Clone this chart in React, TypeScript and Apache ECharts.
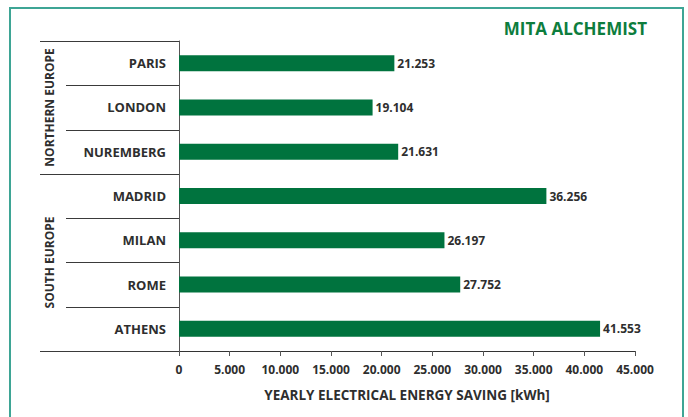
import React, { useEffect, useRef } from "react";
import * as echarts from "echarts";

const cities = ["PARIS", "LONDON", "NUREMBERG", "MADRID", "MILAN", "ROME", "ATHENS"];
const savings = [21253, 19104, 21631, 36256, 26197, 27752, 41553];
const groups = [
  { name: "NORTHERN EUROPE", start: 0, end: 3 },
  { name: "SOUTH EUROPE", start: 3, end: 7 },
];
const xTicks = [0, 5000, 10000, 15000, 20000, 25000, 30000, 35000, 40000, 45000];
const title = "MITA ALCHEMIST";
const axisName = "YEARLY ELECTRICAL ENERGY SAVING [kWh]";

const FONT = "'Open Sans', 'DejaVu Sans', sans-serif";
const TXT = "#2e2e2e";
const GREEN = "#00733e";

const fmt = (v: number) => String(v).replace(/\B(?=(\d{3})+(?!\d))/g, ".");

export default function App() {
  const ref = useRef<HTMLDivElement>(null);
  useEffect(() => {
    if (!ref.current) return;
    const chart = echarts.init(ref.current, undefined, { renderer: "svg" });
    const option: any = {
      animation: false,
      backgroundColor: "#ffffff",
      textStyle: { fontFamily: FONT },
      title: {
        text: title,
        right: 36,
        top: 15,
        textStyle: { color: "#0d7d3d", fontSize: 17, fontWeight: "bold", fontFamily: FONT },
      },
      grid: { left: 179, top: 41, width: 456, height: 310 },
      xAxis: {
        type: "value",
        min: xTicks[0],
        max: xTicks[xTicks.length - 1],
        interval: 5000,
        name: axisName,
        nameLocation: "middle",
        nameGap: 37,
        nameTextStyle: { color: TXT, fontWeight: "bold", fontSize: 13.5, fontFamily: FONT },
        axisLine: { show: true, lineStyle: { color: "#333", width: 1 } },
        axisTick: { show: true, length: 5, lineStyle: { color: "#555" } },
        axisLabel: {
          color: TXT,
          fontWeight: "bold",
          fontSize: 12,
          margin: 12,
          fontFamily: FONT,
          formatter: (v: number) => fmt(v),
        },
        splitLine: { show: false },
      },
      yAxis: {
        type: "category",
        data: cities,
        inverse: true,
        axisLine: { show: true, lineStyle: { color: "#555", width: 1 } },
        axisTick: { show: false },
        axisLabel: { color: TXT, fontWeight: "bold", fontSize: 13, margin: 13, fontFamily: FONT },
      },
      series: [
        {
          type: "bar",
          data: savings,
          barWidth: 16,
          itemStyle: { color: GREEN },
          label: {
            show: true,
            position: "right",
            distance: 3,
            color: TXT,
            fontWeight: "bold",
            fontSize: 12,
            fontFamily: FONT,
            formatter: (p: any) => fmt(p.value),
          },
        },
      ],
    };
    chart.setOption(option);

    const yc = (i: number) => chart.convertToPixel({ yAxisIndex: 0 }, i) as number;
    const band = yc(1) - yc(0);
    const bound = (k: number) => yc(0) - band / 2 + k * band;
    const x0 = chart.convertToPixel({ xAxisIndex: 0 }, 0) as number;
    const outerX = 40;
    const innerX = 66;
    const graphics: any[] = [
      {
        type: "rect",
        shape: { x: 10, y: 8, width: 673, height: 440 },
        style: { fill: "none", stroke: "#3ea595", lineWidth: 2 },
        z: 0,
      },
    ];
    for (let k = 0; k <= cities.length; k++) {
      const isGroupEdge = groups.some((g) => g.start === k || g.end === k);
      const y = Math.round(bound(k)) + 0.5;
      graphics.push({
        type: "line",
        shape: { x1: isGroupEdge ? outerX : innerX, y1: y, x2: x0, y2: y },
        style: { stroke: "#3a3a3a", lineWidth: 1 },
        z: 5,
      });
    }
    groups.forEach((g) => {
      const cy = (bound(g.start) + bound(g.end)) / 2;
      graphics.push({
        type: "text",
        x: 49,
        y: cy,
        rotation: Math.PI / 2,
        style: {
          text: g.name,
          fill: TXT,
          font: `bold 12px ${FONT}`,
          align: "center",
          verticalAlign: "middle",
        },
        z: 5,
      });
    });
    chart.setOption({ graphic: graphics });

    return () => chart.dispose();
  }, []);
  return (
    <div
      ref={ref}
      style={{ position: "absolute", left: 0, top: 0, width: 688, height: 417 }}
    />
  );
}
